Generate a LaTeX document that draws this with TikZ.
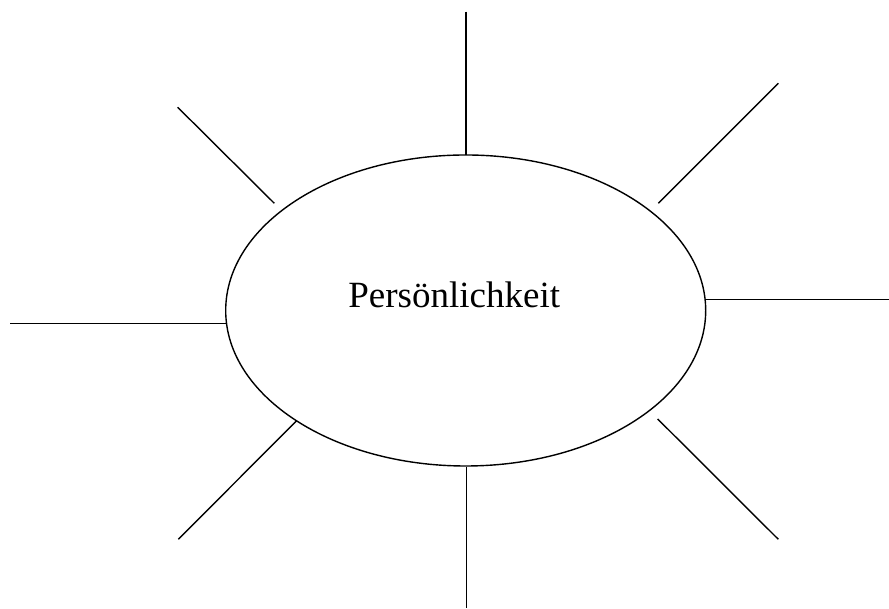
\documentclass[tikz,border=0pt]{standalone}
\usepackage{fontspec}
\setmainfont{Liberation Serif}
\usetikzlibrary{shapes.geometric}
\begin{document}
\begin{tikzpicture}[x=1pt,y=1pt,
  ray/.style={draw=black,line width=1.4pt},
  oval/.style={ellipse,draw=black,line width=1.4pt,minimum width=480pt,minimum height=311pt,inner sep=0pt}]
\useasboundingbox (0,0) rectangle (889,609);
\node[oval] (e) at (465.7,298.5) {};
\node[anchor=base,font=\fontsize{37}{41}\selectfont,inner sep=0pt] (t) at (454.2,301.3) {Persönlichkeit};
% ray end points
\coordinate (topA) at (466,597.3);   \coordinate (topB) at (466,454);
\coordinate (botA) at (466.5,142);   \coordinate (botB) at (466.5,1);
\coordinate (lefA) at (10,285.7);    \coordinate (lefB) at (226.5,285.7);
\coordinate (rigA) at (705.1,309.7); \coordinate (rigB) at (889,309.7);
\coordinate (ulA) at (177.7,501.7);  \coordinate (ulB) at (274.3,405.7);
\coordinate (urA) at (778.3,525.7);  \coordinate (urB) at (658.3,405.7);
\coordinate (llA) at (296.7,188.3);  \coordinate (llB) at (178.3,69.7);
\coordinate (lrA) at (657.7,190);    \coordinate (lrB) at (778.3,69.7);
\draw[ray] (topA) -- (topB);
\draw[ray] (botA) -- (botB);
\draw[ray] (lefA) -- (lefB);
\draw[ray] (rigA) -- (rigB);
\draw[ray] (ulA) -- (ulB);
\draw[ray] (urA) -- (urB);
\draw[ray] (llA) -- (llB);
\draw[ray] (lrA) -- (lrB);
\end{tikzpicture}
\end{document}
